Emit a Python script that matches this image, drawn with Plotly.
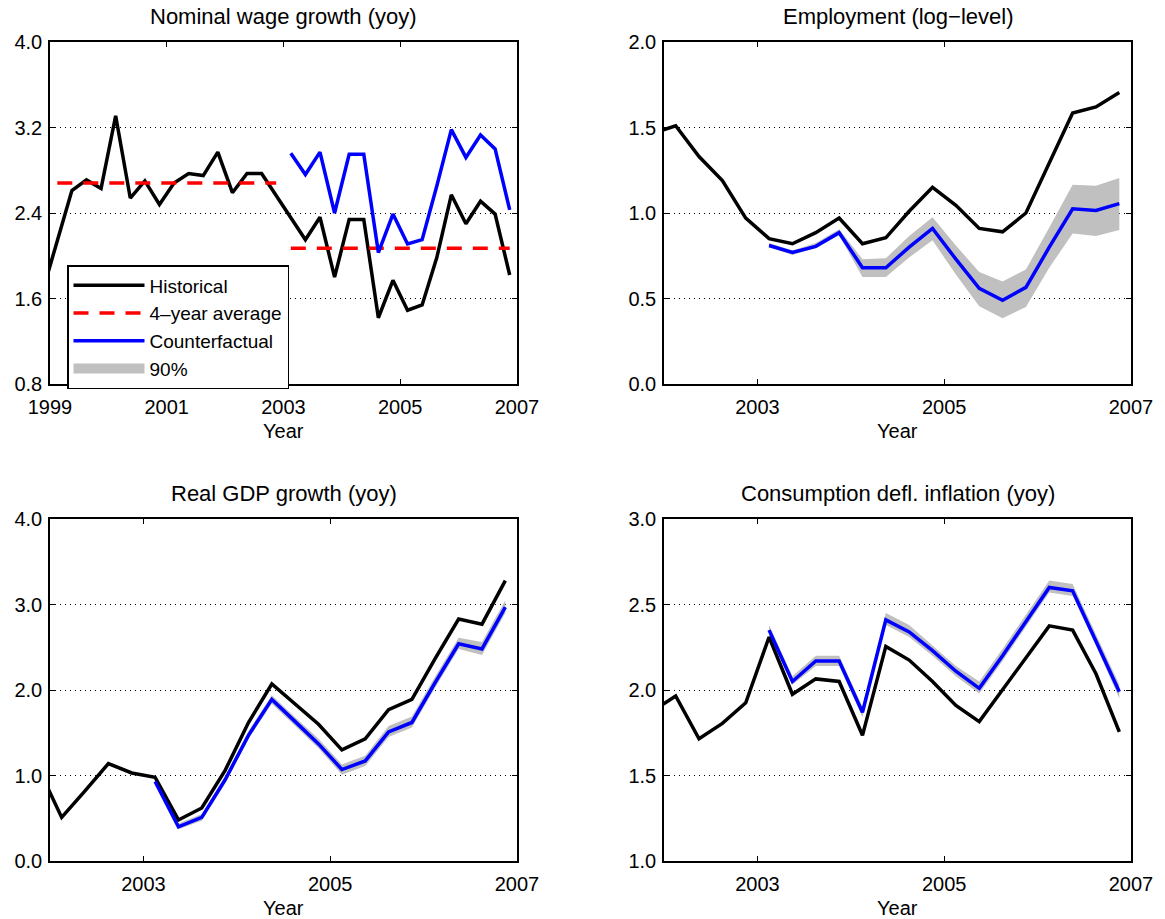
import plotly.graph_objects as go

W, H = 1165, 919
FONT = "Liberation Sans, Arial, Helvetica, sans-serif"


def qpos(label):
    y, q = label.split("Q")
    return int(y) + (int(q) - 0.5) / 4


# ---------------- data ----------------
wage_quarters = ["1998Q4"] + [f"{y}Q{q}" for y in range(1999, 2007) for q in range(1, 5)]
wage_hist = [1.67, 2.13, 2.61, 2.71, 2.63, 3.31, 2.54, 2.70, 2.48, 2.68, 2.77, 2.75, 2.97,
             2.59, 2.77, 2.77, 2.56, 2.36, 2.15, 2.36, 1.80, 2.34, 2.34, 1.42, 1.77, 1.49,
             1.54, 1.98, 2.57, 2.30, 2.51, 2.39, 1.82]

cf_quarters = [f"{y}Q{q}" for y in range(2003, 2007) for q in range(1, 5)]
wage_cf = [2.96, 2.76, 2.97, 2.40, 2.95, 2.95, 2.03, 2.39, 2.11, 2.15, 2.65, 3.18, 2.92,
           3.13, 3.00, 2.43]

avg_periods = [("1999Q1", "2002Q4"), ("2003Q1", "2006Q4")]
avg_values = [2.68, 2.07]

hist_quarters = ["2001Q4"] + [f"{y}Q{q}" for y in range(2002, 2007) for q in range(1, 5)]

emp_hist = [1.466, 1.51, 1.33, 1.19, 0.97, 0.85, 0.82, 0.885, 0.97, 0.82, 0.855, 1.01, 1.15,
            1.045, 0.91, 0.89, 1.00, 1.29, 1.585, 1.62, 1.705]
emp_cf = [0.81, 0.77, 0.805, 0.885, 0.68, 0.68, 0.80, 0.91, 0.73, 0.56, 0.49, 0.565, 0.80,
          1.025, 1.015, 1.055]
emp_lo = [0.80, 0.755, 0.795, 0.87, 0.625, 0.625, 0.74, 0.84, 0.64, 0.455, 0.385, 0.45, 0.68,
          0.88, 0.865, 0.90]
emp_hi = [0.825, 0.78, 0.825, 0.905, 0.73, 0.735, 0.865, 0.975, 0.81, 0.655, 0.60, 0.67,
          0.915, 1.165, 1.16, 1.205]

gdp_hist = [1.09, 0.51, 0.82, 1.14, 1.03, 0.98, 0.48, 0.62, 1.06, 1.62, 2.07, 1.84, 1.60,
            1.30, 1.43, 1.77, 1.89, 2.37, 2.83, 2.77, 3.28]
gdp_cf = [0.93, 0.40, 0.51, 0.95, 1.47, 1.89, 1.63, 1.37, 1.07, 1.17, 1.51, 1.62, 2.09, 2.54,
          2.48, 2.97]
gdp_lo = [0.91, 0.37, 0.47, 0.91, 1.43, 1.84, 1.58, 1.32, 1.01, 1.11, 1.45, 1.56, 2.03, 2.48,
          2.41, 2.90]
gdp_hi = [0.95, 0.44, 0.55, 0.99, 1.52, 1.94, 1.68, 1.43, 1.13, 1.23, 1.58, 1.69, 2.16, 2.61,
          2.56, 3.05]

infl_hist = [1.875, 1.965, 1.715, 1.805, 1.925, 2.31, 1.975, 2.065, 2.05, 1.735, 2.255, 2.175,
             2.05, 1.91, 1.815, 2.0, 2.19, 2.375, 2.35, 2.095, 1.755]
infl_cf = [2.35, 2.05, 2.17, 2.17, 1.87, 2.41, 2.34, 2.23, 2.11, 2.01, 2.20, 2.40, 2.60, 2.58,
           2.29, 1.99]
infl_lo = [2.32, 2.03, 2.14, 2.14, 1.84, 2.38, 2.31, 2.20, 2.08, 1.98, 2.17, 2.37, 2.57, 2.55,
           2.26, 1.95]
infl_hi = [2.38, 2.08, 2.20, 2.20, 1.90, 2.45, 2.38, 2.26, 2.14, 2.05, 2.24, 2.44, 2.64, 2.62,
           2.33, 2.03]

titles = ["Nominal wage growth (yoy)", "Employment (log\u2212level)",
          "Real GDP growth (yoy)", "Consumption defl. inflation (yoy)"]
x_label = "Year"

x_ranges = [[1999, 2007], [2002, 2007], [2002, 2007], [2002, 2007]]
x_ticks = [[1999, 2001, 2003, 2005, 2007], [2003, 2005, 2007], [2003, 2005, 2007],
           [2003, 2005, 2007]]
y_ranges = [[0.8, 4.0], [0.0, 2.0], [0.0, 4.0], [1.0, 3.0]]
y_ticks = [[0.8, 1.6, 2.4, 3.2, 4.0], [0.0, 0.5, 1.0, 1.5, 2.0], [0.0, 1.0, 2.0, 3.0, 4.0],
           [1.0, 1.5, 2.0, 2.5, 3.0]]

# ---------------- styles ----------------
BLACK = "#000000"
BLUE = "#0000ff"
RED = "#ff0000"
GRAY = "#c0c0c0"
LW = 3.5

fig = go.Figure()

wx = [qpos(q) for q in wage_quarters]
cx = [qpos(q) for q in cf_quarters]
hx = [qpos(q) for q in hist_quarters]


def band(xs, lo, hi, ax):
    fig.add_trace(go.Scatter(x=xs + xs[::-1], y=hi + lo[::-1], fill="toself",
                             fillcolor=GRAY, line=dict(width=0), mode="lines",
                             showlegend=False, hoverinfo="skip",
                             xaxis=f"x{ax}", yaxis=f"y{ax}"))


# Panel 1
fig.add_trace(go.Scatter(x=wx, y=wage_hist, mode="lines", name="Historical",
                         line=dict(color=BLACK, width=LW), legendrank=1,
                         xaxis="x", yaxis="y"))
for i, ((a, b), v) in enumerate(zip(avg_periods, avg_values)):
    fig.add_trace(go.Scatter(x=[qpos(a), qpos(b)], y=[v, v], mode="lines",
                             name="4\u2013year average", showlegend=(i == 0),
                             line=dict(color=RED, width=LW, dash="15px,11px"),
                             legendrank=2, xaxis="x", yaxis="y"))
fig.add_trace(go.Scatter(x=cx, y=wage_cf, mode="lines", name="Counterfactual",
                         line=dict(color=BLUE, width=LW), legendrank=3,
                         xaxis="x", yaxis="y"))
fig.add_trace(go.Scatter(x=[None], y=[None], mode="lines", name="90%",
                         line=dict(color=GRAY, width=17), legendrank=4,
                         xaxis="x", yaxis="y"))

# Panels 2-4
for ax, hist, cf, lo, hi in [(2, emp_hist, emp_cf, emp_lo, emp_hi),
                             (3, gdp_hist, gdp_cf, gdp_lo, gdp_hi),
                             (4, infl_hist, infl_cf, infl_lo, infl_hi)]:
    band(cx, lo, hi, ax)
    fig.add_trace(go.Scatter(x=hx, y=hist, mode="lines", showlegend=False,
                             line=dict(color=BLACK, width=LW),
                             xaxis=f"x{ax}", yaxis=f"y{ax}"))
    fig.add_trace(go.Scatter(x=cx, y=cf, mode="lines", showlegend=False,
                             line=dict(color=BLUE, width=LW),
                             xaxis=f"x{ax}", yaxis=f"y{ax}"))


# ---------------- layout ----------------
def px_x(p):
    return p / W


def px_y(p):
    return 1 - p / H


xdom = [[px_x(50), px_x(517)], [px_x(664), px_x(1131)],
        [px_x(50), px_x(517)], [px_x(664), px_x(1131)]]
ydom = [[px_y(384), px_y(42)], [px_y(384), px_y(42)],
        [px_y(861), px_y(519)], [px_y(861), px_y(519)]]

common = dict(showline=True, linecolor=BLACK, linewidth=1.5, mirror="ticks",
              ticks="inside", ticklen=5, tickwidth=1.2, tickcolor=BLACK,
              tickfont=dict(family=FONT, size=20, color=BLACK), zeroline=False,
              automargin=False)

layout = dict(width=W, height=H, margin=dict(l=0, r=0, t=0, b=0),
              paper_bgcolor="white", plot_bgcolor="white", showlegend=True,
              font=dict(family=FONT, color=BLACK))
annotations = []
for i in range(4):
    s = "" if i == 0 else str(i + 1)
    layout[f"xaxis{s}"] = dict(common, domain=xdom[i], range=x_ranges[i],
                               tickmode="array", tickvals=x_ticks[i],
                               ticktext=[str(t) for t in x_ticks[i]],
                               showgrid=False, anchor=f"y{s}", ticklabelstandoff=4)
    layout[f"yaxis{s}"] = dict(common, domain=ydom[i], range=y_ranges[i],
                               tickmode="array", tickvals=y_ticks[i],
                               ticktext=[f"{t:.1f}" for t in y_ticks[i]],
                               showgrid=True, gridcolor=BLACK, gridwidth=1,
                               griddash="1px,4px", anchor=f"x{s}", ticklabelstandoff=2)
    annotations.append(dict(text=titles[i], xref=f"x{s} domain", yref=f"y{s} domain",
                            x=0.5, y=1, xanchor="center", yanchor="bottom", yshift=11,
                            showarrow=False, font=dict(family=FONT, size=22, color=BLACK)))
    annotations.append(dict(text=x_label, xref=f"x{s} domain", yref=f"y{s} domain",
                            x=0.5, y=0, xanchor="center", yanchor="top", yshift=-34,
                            showarrow=False, font=dict(family=FONT, size=20, color=BLACK)))

layout["annotations"] = annotations
layout["legend"] = dict(x=px_x(67), y=px_y(265), xanchor="left", yanchor="top",
                        bgcolor="white", bordercolor=BLACK, borderwidth=1.5,
                        font=dict(family=FONT, size=19, color=BLACK),
                        itemwidth=71, tracegroupgap=0)
fig.update_layout(**layout)

# remove the page's default 8px body margin so the figure fills the window exactly
fig.write_html("out.html", config={"displayModeBar": False},
               post_script="document.body.style.margin='0px';")
